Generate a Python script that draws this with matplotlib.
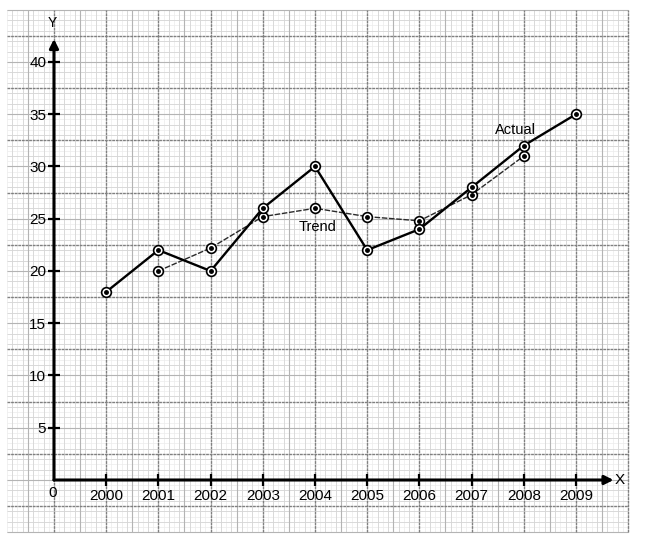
import numpy as np
import matplotlib
matplotlib.use("Agg")
import matplotlib.pyplot as plt

plt.rcParams['font.family'] = ['Liberation Sans', 'DejaVu Sans']

# ---- data ----
years = [2000, 2001, 2002, 2003, 2004, 2005, 2006, 2007, 2008, 2009]
actual = [18, 22, 20, 26, 30, 22, 24, 28, 32, 35]
trend_years = [2001, 2002, 2003, 2004, 2005, 2006, 2007, 2008]
trend = [20, 22.2, 25.2, 26, 25.2, 24.8, 27.3, 31]
y_ticks = [5, 10, 15, 20, 25, 30, 35, 40]
x_labels = [str(y) for y in years]

# ---- figure ----
fig = plt.figure(figsize=(6.53, 5.42), dpi=100)
ax = fig.add_axes([0, 0, 1, 1])
ax.set_xlim(1997.966, 2010.475)
ax.set_ylim(-5.933, 45.93)

# graph-paper grid
gx0, gx1 = 1998.1, 2010.0
gy0, gy1 = -5.0, 45.0
fine_x = np.arange(1998.1, 2010.001, 0.1)
fine_y = np.arange(-5.0, 45.001, 0.5)
ax.vlines(fine_x, gy0, gy1, colors='#ececec', lw=0.5, zorder=0)
ax.hlines(fine_y, gx0, gx1, colors='#ececec', lw=0.5, zorder=0)
mid_x = np.arange(1998.2, 2010.001, 0.2)
mid_y = np.arange(-5.0, 45.001, 1.0)
ax.vlines(mid_x, gy0, gy1, colors='#d6d6d6', lw=0.6, zorder=0)
ax.hlines(mid_y, gx0, gx1, colors='#d6d6d6', lw=0.6, zorder=0)
med_x = np.arange(1998.5, 2010.001, 1.0)
med_y = np.arange(-5.0, 45.001, 5.0)
ax.vlines(med_x, gy0, gy1, colors='#b4b4b4', lw=0.8, zorder=0)
ax.hlines(med_y, gx0, gx1, colors='#b4b4b4', lw=0.8, zorder=0)
maj_x = np.arange(1999, 2010.001, 1.0)
maj_y = np.arange(-2.5, 45.001, 5.0)
ax.vlines(maj_x, gy0, gy1, colors='#808080', lw=1.0, ls=(0, (2, 0.6)), zorder=0)
ax.hlines(maj_y, gx0, gx1, colors='#808080', lw=1.0, ls=(0, (2, 0.6)), zorder=0)

# axes with arrows
for s in ax.spines.values():
    s.set_visible(False)
ax.spines['left'].set_position(('data', 1999))
ax.spines['bottom'].set_position(('data', 0))
ax.annotate('', xy=(1999, 42.2), xytext=(1999, 0),
            arrowprops=dict(arrowstyle='-|>', color='black', lw=2.2,
                            mutation_scale=13, shrinkA=0, shrinkB=0), zorder=3)
ax.annotate('', xy=(2009.72, 0), xytext=(1999, 0),
            arrowprops=dict(arrowstyle='-|>', color='black', lw=2.2,
                            mutation_scale=13, shrinkA=0, shrinkB=0), zorder=3)

ax.set_xticks(years)
ax.set_xticklabels(x_labels)
ax.set_yticks(y_ticks)
ax.set_yticklabels([str(v) for v in y_ticks])
ax.tick_params(axis='both', direction='inout', length=9, width=1.6,
               color='black', labelsize=11, labelcolor='black')
ax.tick_params(axis='x', pad=2)
ax.tick_params(axis='y', pad=1)

ax.text(1998.97, -1.25, '0', ha='center', va='center', fontsize=11)
ax.text(1998.96, 43.7, 'Y', ha='center', va='center', fontsize=10)
ax.text(2009.84, 0, 'X', ha='center', va='center', fontsize=11)

# series
ax.plot(trend_years, trend, color='#2a2a2a', lw=1.0, ls=(0, (4, 1.2)), zorder=4)
ax.plot(years, actual, color='black', lw=1.7, zorder=5)
for xs, ys in ((trend_years, trend), (years, actual)):
    ax.plot(xs, ys, ls='none', marker='o', ms=7, mfc='white', mec='black',
            mew=1.2, zorder=6)
    ax.plot(xs, ys, ls='none', marker='o', ms=2.5, mfc='black', mec='black',
            zorder=7)

ax.text(2007.85, 33.5, 'Actual', ha='center', va='center', fontsize=10.5)
ax.text(2004.05, 24.2, 'Trend', ha='center', va='center', fontsize=10.5)

fig.savefig('out.png', dpi=100)
